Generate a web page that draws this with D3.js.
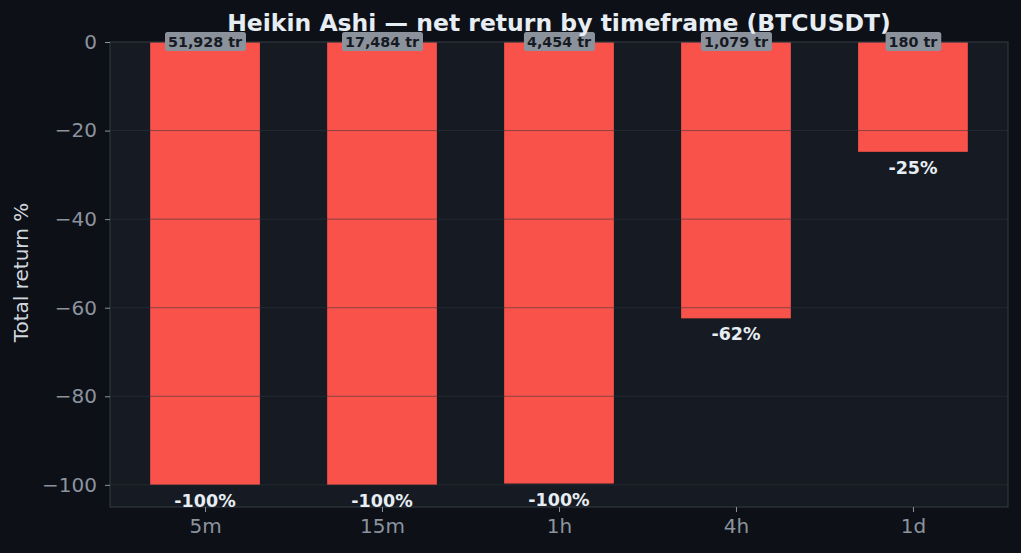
<!DOCTYPE html>
<html>
<head>
<meta charset="utf-8">
<script src="https://cdn.jsdelivr.net/npm/d3@7"></script>
<style>
  html, body { margin: 0; padding: 0; background: #0d1117; }
  svg { display: block; font-family: "DejaVu Sans", sans-serif; }
</style>
</head>
<body>
<svg id="chart" width="1021" height="553"></svg>
<script>
const timeframes = ["5m", "15m", "1h", "4h", "1d"];
const returns = [-100, -100, -99.7, -62.4, -24.8];
const returnLabels = ["-100%", "-100%", "-100%", "-62%", "-25%"];
const tradeLabels = ["51,928 tr", "17,484 tr", "4,454 tr", "1,079 tr", "180 tr"];
const yTicks = [0, -20, -40, -60, -80, -100];

const svg = d3.select("#chart");
svg.append("rect").attr("width", 1021).attr("height", 553).attr("fill", "#0d1017");

const margin = { top: 42, right: 13, bottom: 46, left: 110 };
const width = 1021 - margin.left - margin.right;
const height = 553 - margin.top - margin.bottom;
const g = svg.append("g").attr("transform", `translate(${margin.left},${margin.top})`);

const x = d3.scaleLinear().domain([-0.537, timeframes.length - 1 + 0.537]).range([0, width]);
const y = d3.scaleLinear().domain([0, -105]).range([0, height]);
const barW = x(0.62) - x(0);

g.append("rect").attr("width", width).attr("height", height).attr("fill", "#161a22");

g.selectAll(".bar")
  .data(returns)
  .join("rect")
  .attr("x", (d, i) => x(i) - barW / 2)
  .attr("y", 0)
  .attr("width", barW)
  .attr("height", (d) => y(d))
  .attr("fill", "#f8524b");

// grid above bars, like the original
g.selectAll(".grid")
  .data(yTicks.filter((t) => t !== 0))
  .join("line")
  .attr("x1", 0)
  .attr("x2", width)
  .attr("y1", (d) => y(d))
  .attr("y2", (d) => y(d))
  .attr("stroke", "#30363d")
  .attr("stroke-opacity", 0.55)
  .attr("stroke-width", 1);

g.append("rect").attr("width", width).attr("height", height)
  .attr("fill", "none").attr("stroke", "#30363d").attr("stroke-width", 1.2);

g.append("g")
  .call(d3.axisLeft(y).tickValues(yTicks).tickFormat((v) => String(v).replace("-", "\u2212")).tickSize(5).tickPadding(8))
  .call((axis) => axis.select(".domain").remove())
  .call((axis) => axis.selectAll("line").attr("stroke", "#8b949e"))
  .call((axis) => axis.selectAll("text").attr("fill", "#8b949e").style("font-size", "20px").style("font-family", "DejaVu Sans"));

g.append("g")
  .attr("transform", `translate(0,${height})`)
  .call(d3.axisBottom(x).tickValues(d3.range(timeframes.length)).tickFormat((i) => timeframes[i]).tickSize(5).tickPadding(7))
  .call((axis) => axis.select(".domain").remove())
  .call((axis) => axis.selectAll("line").attr("stroke", "#8b949e"))
  .call((axis) => axis.selectAll("text").attr("fill", "#8b949e").style("font-size", "20px").style("font-family", "DejaVu Sans"));

g.selectAll(".ret-label")
  .data(returns)
  .join("text")
  .attr("x", (d, i) => x(i))
  .attr("y", (d) => y(d) + 22)
  .attr("text-anchor", "middle")
  .attr("fill", "#e6edf3")
  .style("font-size", "17.5px")
  .style("font-weight", "bold")
  .text((d, i) => returnLabels[i]);

const tags = g.selectAll(".tag")
  .data(tradeLabels)
  .join("g")
  .attr("transform", (d, i) => `translate(${x(i)},0)`);
tags.append("text")
  .attr("y", 5)
  .attr("text-anchor", "middle")
  .attr("fill", "#161a22")
  .style("font-size", "14.3px")
  .style("font-weight", "bold")
  .text((d) => d)
  .each(function () {
    const bb = this.getBBox();
    d3.select(this.parentNode).insert("rect", "text")
      .attr("x", bb.x - 3)
      .attr("y", -10)
      .attr("width", bb.width + 6)
      .attr("height", 19)
      .attr("rx", 2.5)
      .attr("fill", "#8b929c");
  });

svg.append("text")
  .attr("x", margin.left + width / 2)
  .attr("y", 31)
  .attr("text-anchor", "middle")
  .attr("fill", "#e6edf3")
  .style("font-size", "23.5px")
  .style("font-weight", "bold")
  .text("Heikin Ashi \u2014 net return by timeframe (BTCUSDT)");

svg.append("text")
  .attr("transform", `translate(28,${margin.top + height / 2 - 2}) rotate(-90)`)
  .attr("text-anchor", "middle")
  .attr("fill", "#d0d7de")
  .style("font-size", "20px")
  .text("Total return %");
</script>
</body>
</html>
